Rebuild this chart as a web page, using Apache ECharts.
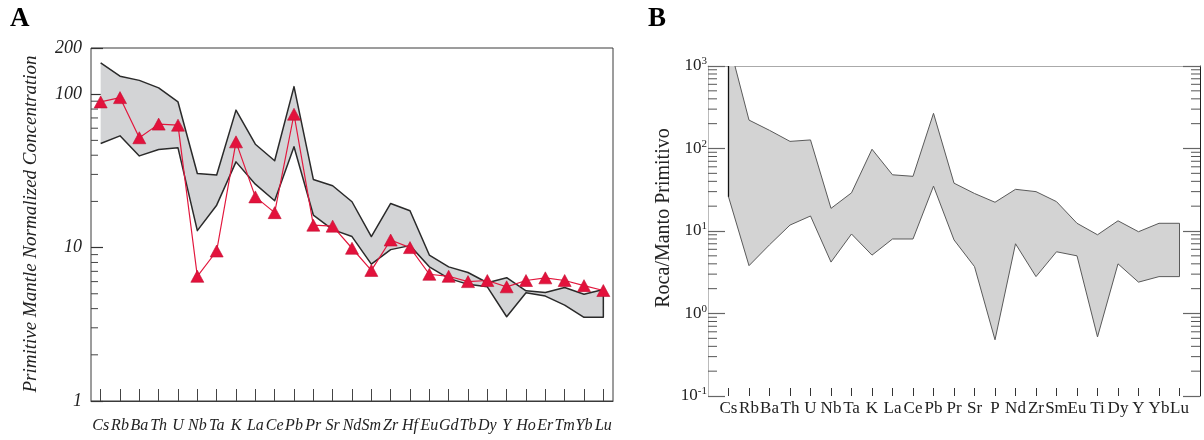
<!DOCTYPE html>
<html><head><meta charset="utf-8">
<script src="https://cdn.jsdelivr.net/npm/echarts@6/dist/echarts.min.js"></script>
<style>html,body{margin:0;padding:0;background:#fff}#c{width:1204px;height:440px}</style>
</head><body><div id="c"></div>
<script>
// ---- Panel A data ----
const elementsA = ['Cs','Rb','Ba','Th','U','Nb','Ta','K','La','Ce','Pb','Pr','Sr','Nd','Sm','Zr','Hf','Eu','Gd','Tb','Dy','Y','Ho','Er','Tm','Yb','Lu'];
const upperA  = [160,131,123,110,89,30.4,29.7,78.7,47.2,36.8,112,27.8,25.3,19.9,11.8,19.4,17.4,8.94,7.49,6.88,5.9,6.36,5.23,5.1,5.5,4.97,5.33];
const lowerA  = [47.7,53.5,39.6,43.6,44.7,12.9,18.9,36.2,25.9,20.2,45.4,16.3,13.1,11.8,7.8,9.7,10.3,7.49,6.3,5.76,5.55,3.54,5.08,4.83,4.22,3.51,3.51];
const sampleA = [89,95,52,63.8,62.8,6.5,9.5,48.9,21.4,16.9,74,14.0,13.8,9.9,7.1,11.2,10.0,6.7,6.5,6.0,6.1,5.55,6.1,6.35,6.1,5.65,5.25];
const minorTicksA = [2,3,4,5,6,7,8,9,20,30,40,50,60,70,80,90];

// ---- Panel B data ----
const elementsB = ['Cs','Rb','Ba','Th','U','Nb','Ta','K','La','Ce','Pb','Pr','Sr','P','Nd','Zr','Sm','Eu','Ti','Dy','Y','Yb','Lu'];
const upperB = [2000,221,166,122,127,18.8,29,98,48,46,267,38,28.5,22.3,32,30,22.7,12.4,9.0,13.3,9.8,12.4,12.4];
const lowerB = [26,3.8,6.8,11.8,15.2,4.2,9.2,5.1,8.0,8.0,35,7.8,3.7,0.48,7.0,2.8,5.6,5.0,0.52,4.0,2.4,2.8,2.8];
const minorTicksB = [0.2,0.3,0.4,0.5,0.6,0.7,0.8,0.9,2,3,4,5,6,7,8,9,20,30,40,50,60,70,80,90,200,300,400,500,600,700,800,900];

const catsB = [''].concat(elementsB, ['']);

const chart = echarts.init(document.getElementById('c'), null, {renderer: 'canvas'});

function envelopeRenderer(lower, upper, offset, fill, stroke, lw, closed, firstEdge) {
  return function (params, api) {
    if (params.dataIndex !== 0) return null;
    const up = upper.map((v, i) => api.coord([i + offset, v]));
    const lo = lower.map((v, i) => api.coord([i + offset, v])).reverse();
    const pts = up.concat(lo);
    const children = [{
      type: 'polygon', shape: {points: pts},
      style: {fill: fill, stroke: null}
    }];
    children.push({
      type: closed ? 'polygon' : 'polyline',
      shape: {points: pts},
      style: {fill: null, stroke: stroke, lineWidth: lw, lineJoin: 'round'}
    });
    if (firstEdge) {
      const a = up[0], b = lo[lo.length - 1];
      children.push({type: 'line', shape: {x1: a[0], y1: a[1], x2: b[0], y2: b[1]},
        style: {stroke: firstEdge, lineWidth: 1.3}});
    }
    return {type: 'group', children: children};
  };
}

const serifI = 'Liberation Serif';

const option = {
  animation: false,
  backgroundColor: '#fff',
  grid: [
    {left: 91, top: 48, width: 522, height: 353, show: true, borderColor: '#3a3a3a', borderWidth: 1, backgroundColor: 'transparent'},
    {left: 708, top: 66, width: 492, height: 330, show: false}
  ],
  xAxis: [
    {
      type: 'category', gridIndex: 0, data: elementsA, boundaryGap: true,
      axisLine: {show: true, lineStyle: {color: '#3a3a3a'}},
      axisTick: {show: true, inside: true, length: 12, alignWithLabel: true, lineStyle: {color: '#444'}},
      axisLabel: {interval: 0, margin: 17, color: '#222', fontFamily: serifI, fontStyle: 'italic', fontSize: 16},
      splitLine: {show: false}
    },
    {
      type: 'category', gridIndex: 1, data: catsB, boundaryGap: false,
      axisLine: {show: false},
      axisTick: {show: true, inside: true, length: 8, interval: (i) => i > 0 && i < catsB.length - 1, lineStyle: {color: '#333'}},
      axisLabel: {interval: 0, margin: 4, color: '#222', fontFamily: serifI, fontSize: 17},
      splitLine: {show: false}
    },
    {
      type: 'category', gridIndex: 1, data: catsB, boundaryGap: false, position: 'top',
      axisLine: {show: true, lineStyle: {color: '#aaa'}},
      axisTick: {show: false}, axisLabel: {show: false}, splitLine: {show: false}
    }
  ],
  yAxis: [
    {
      type: 'log', logBase: 10, gridIndex: 0, min: 1, max: 200,
      axisLine: {show: false},
      axisTick: {show: true, inside: true, length: 12, lineStyle: {color: '#333', width: 1.2}},
      axisLabel: {margin: 9, color: '#222', fontFamily: serifI, fontStyle: 'italic', fontSize: 18,
        formatter: (v) => String(Math.round(v))},
      splitLine: {show: false}
    },
    {
      type: 'log', logBase: 10, gridIndex: 1, min: 0.1, max: 1000,
      axisLine: {show: true, lineStyle: {color: '#bbb'}},
      axisTick: {show: true, inside: true, length: 17, lineStyle: {color: '#666', width: 1.2}},
      axisLabel: {margin: 1, color: '#222',
        formatter: (v) => '{b|10}{s|' + Math.round(Math.log10(v)) + '}',
        rich: {
          b: {fontFamily: serifI, fontSize: 17, color: '#222', lineHeight: 20},
          s: {fontFamily: serifI, fontSize: 11, color: '#222', verticalAlign: 'top', lineHeight: 20}
        }},
      splitLine: {show: false}
    },
    {
      type: 'log', logBase: 10, gridIndex: 1, min: 0.1, max: 1000, position: 'right',
      axisLine: {show: true, lineStyle: {color: '#222'}},
      axisTick: {show: true, inside: true, length: 17, lineStyle: {color: '#666', width: 1.2}},
      axisLabel: {show: false}, splitLine: {show: false}
    }
  ],
  series: [
    {
      type: 'custom', xAxisIndex: 0, yAxisIndex: 0, z: 1, clip: true,
      data: elementsA.map((e, i) => [i, lowerA[i], upperA[i]]),
      encode: {x: 0, y: [1, 2]},
      renderItem: envelopeRenderer(lowerA, upperA, 0, '#d3d4d6', '#2a2a2a', 1.5, false, null)
    },
    {
      type: 'line', xAxisIndex: 0, yAxisIndex: 0, z: 5,
      data: sampleA,
      symbol: 'triangle', symbolSize: [13, 12],
      lineStyle: {color: '#e2173d', width: 1.2},
      itemStyle: {color: '#e3123c', borderColor: '#c20f33', borderWidth: 0.6}
    },
    {
      type: 'custom', xAxisIndex: 0, yAxisIndex: 0, z: 3,
      data: minorTicksA.map(v => [0, v]),
      encode: {x: 0, y: 1},
      renderItem: function (params, api) {
        const cs = params.coordSys;
        const y = api.coord([0, api.value(1)])[1];
        return {type: 'line', shape: {x1: cs.x, y1: y, x2: cs.x + 7, y2: y}, style: {stroke: '#444', lineWidth: 1}};
      }
    },
    {
      type: 'custom', xAxisIndex: 1, yAxisIndex: 1, z: 1, clip: true,
      data: elementsB.map((e, i) => [i + 1, lowerB[i], upperB[i]]),
      encode: {x: 0, y: [1, 2]},
      renderItem: envelopeRenderer(lowerB, upperB, 1, '#d3d3d3', '#5a5a5a', 1, true, '#111')
    },
    {
      type: 'custom', xAxisIndex: 1, yAxisIndex: 1, z: 3,
      data: minorTicksB.map(v => [0, v]),
      encode: {x: 0, y: 1},
      renderItem: function (params, api) {
        const cs = params.coordSys;
        const y = api.coord([0, api.value(1)])[1];
        return {type: 'group', children: [
          {type: 'line', shape: {x1: cs.x, y1: y, x2: cs.x + 9, y2: y}, style: {stroke: '#555', lineWidth: 1}},
          {type: 'line', shape: {x1: cs.x + cs.width, y1: y, x2: cs.x + cs.width - 9, y2: y}, style: {stroke: '#555', lineWidth: 1}}
        ]};
      }
    }
  ],
  graphic: [
    {type: 'text', left: 10, top: 6, style: {text: 'A', font: 'bold 27px "Liberation Serif"', fill: '#000'}},
    {type: 'text', left: 648, top: 6, style: {text: 'B', font: 'bold 27px "Liberation Serif"', fill: '#000'}},
    {type: 'text', x: 31, y: 224, rotation: Math.PI / 2,
      style: {text: 'Primitive Mantle Normalized Concentration', font: 'italic 19px "Liberation Serif"', fill: '#222', align: 'center', verticalAlign: 'middle'}},
    {type: 'text', x: 664, y: 218, rotation: Math.PI / 2,
      style: {text: 'Roca/Manto Primitivo', font: '20px "Liberation Serif"', fill: '#222', align: 'center', verticalAlign: 'middle'}}
  ]
};
chart.setOption(option);
</script>
</body></html>
